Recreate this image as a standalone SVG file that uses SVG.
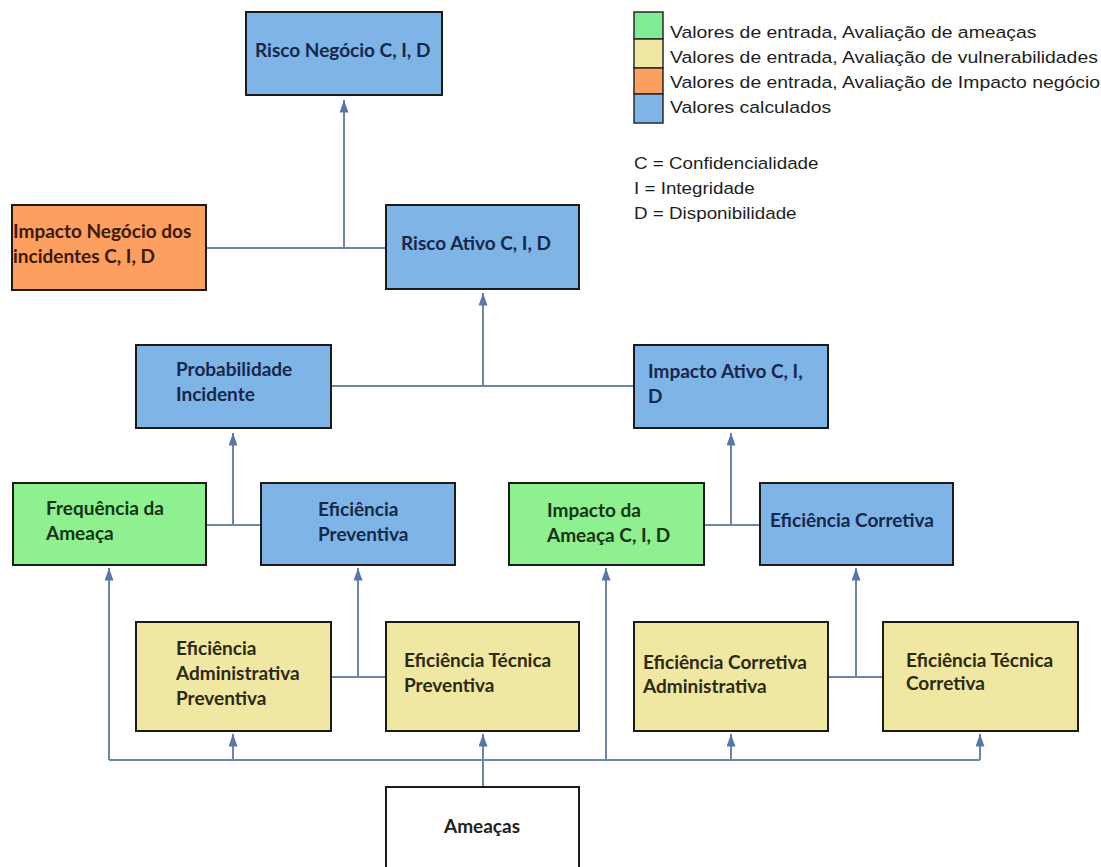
<svg xmlns="http://www.w3.org/2000/svg" width="1101" height="867" viewBox="0 0 1101 867">
  <defs>
    <marker id="arrow" viewBox="0 0 14 10" refX="14" refY="5" markerWidth="14" markerHeight="9" markerUnits="userSpaceOnUse" orient="auto">
      <path d="M0,0 L14,5 L0,10 z" fill="#5677a8"/>
    </marker>
  </defs>
  <style>
    .box { stroke: #1b1b1b; stroke-width: 2; }
    .calc { fill: #7eb4e6; }
    .threat { fill: #8ef08e; }
    .vuln { fill: #efe7a2; }
    .impact { fill: #fd9f5e; }
    .plain { fill: #ffffff; }
    .lbl { font-family: Lato, "Liberation Sans", sans-serif; font-weight: bold; font-size: 19px; }
    .t-calc { fill: #16284a; }
    .t-threat { fill: #143414; }
    .t-vuln { fill: #2c2a12; }
    .t-impact { fill: #3a1a08; }
    .t-plain { fill: #222222; }
    .wire { fill: none; stroke: #6d86a8; stroke-width: 2; }
    .legend { font-family: "Liberation Sans", Arial, sans-serif; font-size: 17px; fill: #1e1e1e; }
    .key { font-family: "Liberation Sans", Arial, sans-serif; font-size: 16.5px; fill: #1e1e1e; }
    .swatch { stroke: #2a2a2a; stroke-width: 1.5; }
  </style>

  <rect width="1101" height="867" fill="#ffffff"/>

  <!-- connectors -->
  <g id="connectors" class="wire">
    <path d="M206,248 H386"/>
    <path d="M344,248 V100" marker-end="url(#arrow)"/>
    <path d="M331,386 H634"/>
    <path d="M483,386 V293" marker-end="url(#arrow)"/>
    <path d="M206,525 H261"/>
    <path d="M233,525 V433" marker-end="url(#arrow)"/>
    <path d="M704,525 H760"/>
    <path d="M731,525 V433" marker-end="url(#arrow)"/>
    <path d="M331,677 H386"/>
    <path d="M358,677 V568" marker-end="url(#arrow)"/>
    <path d="M828,677 H883"/>
    <path d="M856,677 V568" marker-end="url(#arrow)"/>
    <path d="M109,760 H980"/>
    <path d="M109,760 V568" marker-end="url(#arrow)"/>
    <path d="M233,760 V734" marker-end="url(#arrow)"/>
    <path d="M483,787 V734" marker-end="url(#arrow)"/>
    <path d="M606,760 V568" marker-end="url(#arrow)"/>
    <path d="M731,760 V734" marker-end="url(#arrow)"/>
    <path d="M980,760 V734" marker-end="url(#arrow)"/>
  </g>

  <!-- nodes -->
  <g id="risco-negocio">
    <rect class="box calc" x="246" y="12" width="196" height="83"/>
    <text class="lbl t-calc" x="255" y="57">Risco Negócio C, I, D</text>
  </g>
  <g id="impacto-negocio">
    <rect class="box impact" x="12" y="205" width="194" height="85"/>
    <text class="lbl t-impact" x="13" y="238">Impacto Negócio dos</text>
    <text class="lbl t-impact" x="13" y="263">incidentes C, I, D</text>
  </g>
  <g id="risco-ativo">
    <rect class="box calc" x="386" y="205" width="193" height="84"/>
    <text class="lbl t-calc" x="401" y="250">Risco Ativo C, I, D</text>
  </g>
  <g id="probabilidade">
    <rect class="box calc" x="136" y="345" width="195" height="83"/>
    <text class="lbl t-calc" x="176" y="376">Probabilidade</text>
    <text class="lbl t-calc" x="176" y="401">Incidente</text>
  </g>
  <g id="impacto-ativo">
    <rect class="box calc" x="634" y="345" width="194" height="83"/>
    <text class="lbl t-calc" x="648" y="378">Impacto Ativo C, I,</text>
    <text class="lbl t-calc" x="648" y="403">D</text>
  </g>
  <g id="frequencia">
    <rect class="box threat" x="13" y="483" width="193" height="82"/>
    <text class="lbl t-threat" x="46" y="515">Frequência da</text>
    <text class="lbl t-threat" x="46" y="540">Ameaça</text>
  </g>
  <g id="eficiencia-preventiva">
    <rect class="box calc" x="261" y="483" width="194" height="82"/>
    <text class="lbl t-calc" x="318" y="516">Eficiência</text>
    <text class="lbl t-calc" x="318" y="541">Preventiva</text>
  </g>
  <g id="impacto-ameaca">
    <rect class="box threat" x="509" y="483" width="195" height="82"/>
    <text class="lbl t-threat" x="547" y="517">Impacto da</text>
    <text class="lbl t-threat" x="547" y="542">Ameaça C, I, D</text>
  </g>
  <g id="eficiencia-corretiva">
    <rect class="box calc" x="760" y="483" width="193" height="82"/>
    <text class="lbl t-calc" x="770" y="527">Eficiência Corretiva</text>
  </g>
  <g id="eficiencia-adm-preventiva">
    <rect class="box vuln" x="136" y="622" width="195" height="109"/>
    <text class="lbl t-vuln" x="176" y="655">Eficiência</text>
    <text class="lbl t-vuln" x="176" y="680">Administrativa</text>
    <text class="lbl t-vuln" x="176" y="705">Preventiva</text>
  </g>
  <g id="eficiencia-tec-preventiva">
    <rect class="box vuln" x="386" y="622" width="193" height="109"/>
    <text class="lbl t-vuln" x="404" y="667">Eficiência Técnica</text>
    <text class="lbl t-vuln" x="404" y="692">Preventiva</text>
  </g>
  <g id="eficiencia-corr-adm">
    <rect class="box vuln" x="634" y="622" width="194" height="109"/>
    <text class="lbl t-vuln" x="643" y="669">Eficiência Corretiva</text>
    <text class="lbl t-vuln" x="643" y="693">Administrativa</text>
  </g>
  <g id="eficiencia-tec-corretiva">
    <rect class="box vuln" x="883" y="622" width="195" height="109"/>
    <text class="lbl t-vuln" x="906" y="667">Eficiência Técnica</text>
    <text class="lbl t-vuln" x="906" y="690">Corretiva</text>
  </g>
  <g id="ameacas">
    <rect class="box plain" x="386" y="787" width="193" height="92"/>
    <text class="lbl t-plain" x="482" y="833" text-anchor="middle">Ameaças</text>
  </g>

  <!-- colour key -->
  <g id="legend">
    <rect class="swatch" x="634" y="12" width="29" height="27" fill="#80ec96"/>
    <rect class="swatch" x="634" y="39" width="29" height="29" fill="#efe7a2"/>
    <rect class="swatch" x="634" y="68" width="29" height="26" fill="#fd9f5e"/>
    <rect class="swatch" x="634" y="94" width="29" height="29" fill="#7eb4e6"/>
    <g transform="translate(670 0) scale(1.14 1)">
      <text class="legend" x="0" y="38">Valores de entrada, Avaliação de ameaças</text>
      <text class="legend" x="0" y="63">Valores de entrada, Avaliação de vulnerabilidades</text>
      <text class="legend" x="0" y="88">Valores de entrada, Avaliação de Impacto negócio</text>
      <text class="legend" x="0" y="113">Valores calculados</text>
    </g>
    <g transform="translate(634 0) scale(1.14 1)">
      <text class="key" x="0" y="169">C = Confidencialidade</text>
      <text class="key" x="0" y="194">I = Integridade</text>
      <text class="key" x="0" y="219">D = Disponibilidade</text>
    </g>
  </g>
</svg>
